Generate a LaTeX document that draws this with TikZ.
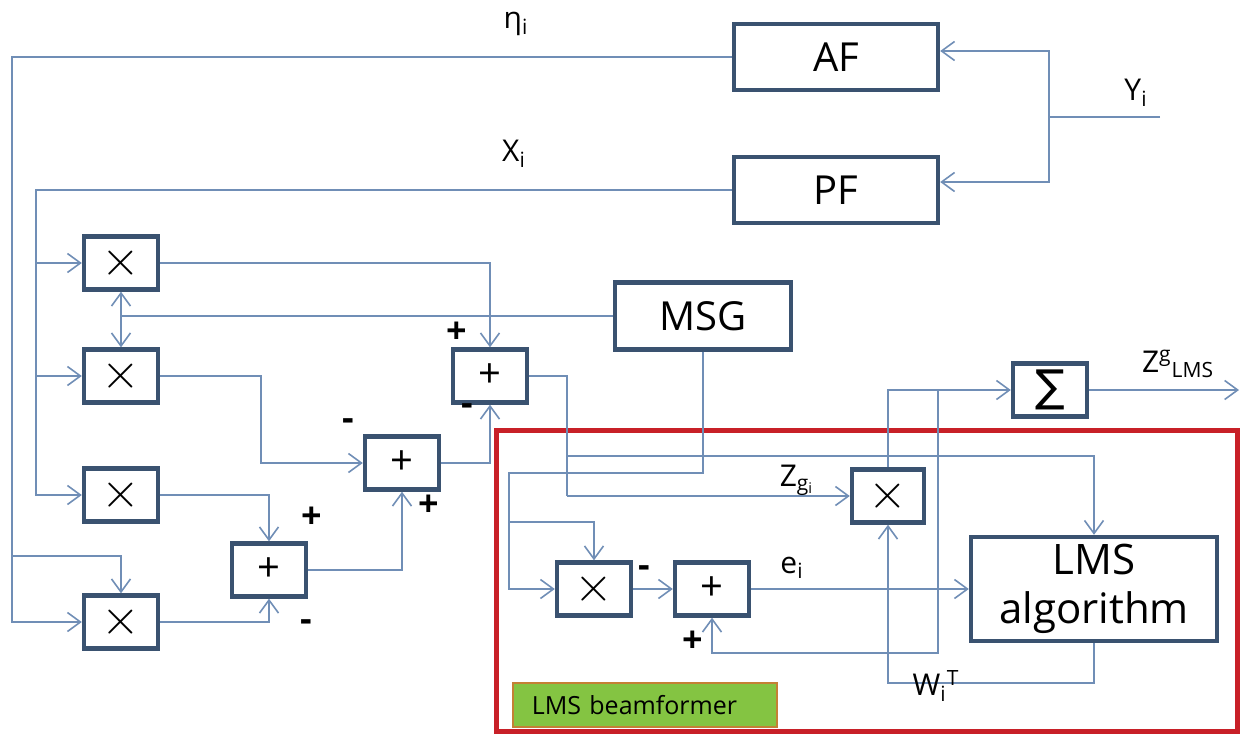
\documentclass[tikz,border=0pt]{standalone}
\usepackage{fontspec}
\setmainfont{Open Sans}
\newfontfamily\symfont{DejaVu Sans}
\usetikzlibrary{arrows.meta,calc}

\definecolor{wirec}{RGB}{112,142,182}
\definecolor{boxc}{RGB}{58,82,112}
\definecolor{redc}{RGB}{200,32,40}
\definecolor{tagfill}{RGB}{132,196,66}
\definecolor{tagline}{RGB}{196,128,52}

\begin{document}
\begin{tikzpicture}[x=0.5pt,y=-0.5pt,
  >={Straight Barb[length=6.5pt,width=9.5pt]},
  wire/.style={draw=wirec,line width=0.8pt},
  blk/.style={draw=boxc,line width=2.2pt,fill=white,inner sep=0pt,
    font=\fontsize{20}{24.5}\selectfont},
  mul/.style={blk,minimum width=37pt,minimum height=26.5pt,
    font=\fontsize{24}{24}\selectfont},
  add/.style={blk,minimum width=37pt,minimum height=26.5pt,
    font=\fontsize{20}{20}\selectfont},
  sgn/.style={font=\fontsize{18}{18}\selectfont\bfseries},
  lbl/.style={font=\fontsize{15}{15}\selectfont},
  tag/.style={draw=tagline,line width=0.8pt,fill=tagfill,
    minimum height=22pt,text width=113pt,inner xsep=9.5pt,align=left,
    font=\fontsize{12.5}{12.5}\selectfont}]
  \useasboundingbox (0,0) rectangle (1240,734);

  % LMS beamformer frame
  \draw[redc,line width=2.5pt] (496,430) rectangle (1237,731);
  \node[tag,anchor=west] (bf) at (512,705) {LMS beamformer};

  % Filters and generator
  \node[blk,minimum width=102pt,minimum height=33pt] (AF) at (836,57) {AF};
  \node[blk,minimum width=102pt,minimum height=33pt] (PF) at (836,190) {PF};
  \node[blk,minimum width=88pt,minimum height=33.5pt] (MSG) at (703,316) {MSG};

  % Left products
  \node[mul] (mul1) at (121,263) {$\times$};
  \node[mul] (mul2) at (121,376) {$\times$};
  \node[mul] (mul3) at (121,495) {$\times$};
  \node[mul] (mul4) at (121,622) {$\times$};

  % Adders
  \node[add] (addT) at (490,376) {+};
  \node[add] (addM) at (402,463) {+};
  \node[add] (addL) at (269,570) {+};

  % Beamformer blocks
  \node[mul] (mulB) at (594,589) {$\times$};
  \node[add] (addB) at (712,589) {+};
  \node[mul,minimum width=36pt] (mulZ) at (888,496) {$\times$};
  \node[blk,minimum width=123pt,minimum height=52pt,align=center,
    font=\fontsize{21}{24.5}\selectfont] (LMSA) at (1094,589) {LMS\\algorithm};
  \node[add,font=\symfont\fontsize{22}{22}\selectfont] (sig) at (1050,390) {∑};

  % eta and X feeds
  \coordinate (etaL) at (12,57);
  \coordinate (etaB) at (12,556);
  \coordinate (xL) at (36,190);
  \draw[wire,->] (AF.west) -- (etaL) |- (mul4.west);
  \draw[wire,->] (etaB) -| (mul4.north);
  \draw[wire,->] (PF.west) -- (xL) |- (mul3.west);
  \draw[wire,->] (xL) |- (mul1.west);
  \draw[wire,->] (xL) |- (mul2.west);

  % Y input
  \coordinate (yin) at (1160,117);
  \coordinate (ysp) at (1049,117);
  \draw[wire] (yin) -- (ysp);
  \draw[wire,->] (ysp) |- ($(AF.east)+(0,-6)$);
  \draw[wire,->] (ysp) |- ($(PF.east)+(0,-8)$);

  % MSG out
  \coordinate (mA) at (509,473);
  \coordinate (mB) at (509,522);
  \draw[wire] (MSG.west) -- (mul1.south |- MSG.west);
  \draw[wire,<->] (mul1.south) -- (mul2.north);
  \draw[wire,->] (MSG.south) |- (mA) |- (mulB.west);
  \draw[wire,->] (mB) -| (mulB.north);

  % Adder tree
  \coordinate (k2) at (261,463);
  \draw[wire,->] (mul1.east) -| (addT.north);
  \draw[wire,->] (mul2.east) -| (k2) -- (addM.west);
  \draw[wire,->] (mul3.east) -| (addL.north);
  \draw[wire,->] (mul4.east) -| (addL.south);
  \draw[wire,->] (addL.east) -| (addM.south);
  \draw[wire,->] (addM.east) -| (addT.south);

  % Beamformer wiring
  \coordinate (zA) at (567,456);
  \coordinate (zB) at (567,496);
  \coordinate (fbT) at (938,390);
  \coordinate (fbB) at (938,653);
  \coordinate (zout) at (1239,390);
  \draw[wire] (addT.east) -| (zB);
  \draw[wire,->] (zB) -- (mulZ.west);
  \draw[wire,->] (zA) -| (LMSA.north);
  \draw[wire,->] (mulB.east) -- (addB.west);
  \draw[wire,->] (addB.east) -- (LMSA.west);
  \draw[wire,->] (mulZ.north) |- (sig.west);
  \draw[wire,->] (fbT) -- (fbB) -| (addB.south);
  \draw[wire,->] (LMSA.south) -- ++(0,40) -| (mulZ.south);
  \draw[wire,->] (sig.east) -- (zout);

  % Signal labels
  \node[lbl] (leta) at (516,24) {η\textsubscript{i}};
  \node[lbl] (lx) at (514,154) {X\textsubscript{i}};
  \node[lbl] (ly) at (1136,93) {Y\textsubscript{i}};
  \node[lbl] (lz) at (1178,364) {Z\textsuperscript{g}\textsubscript{LMS}};
  \node[lbl] (lzg) at (797,480) {Z\textsubscript{g\textsubscript{i}}};
  \node[lbl] (le) at (792,568) {e\textsubscript{i}};
  \node[lbl] (lw) at (936,686) {W\textsubscript{i}\textsuperscript{T}};

  % Signs
  \node[sgn] at (457,333) {+};
  \node[sgn] at (467,410) {-};
  \node[sgn] at (348,425) {-};
  \node[sgn] at (429,506) {+};
  \node[sgn] at (312,518) {+};
  \node[sgn] at (306,626) {-};
  \node[sgn] at (644,572) {-};
  \node[sgn] at (693,642) {+};
\end{tikzpicture}
\end{document}
